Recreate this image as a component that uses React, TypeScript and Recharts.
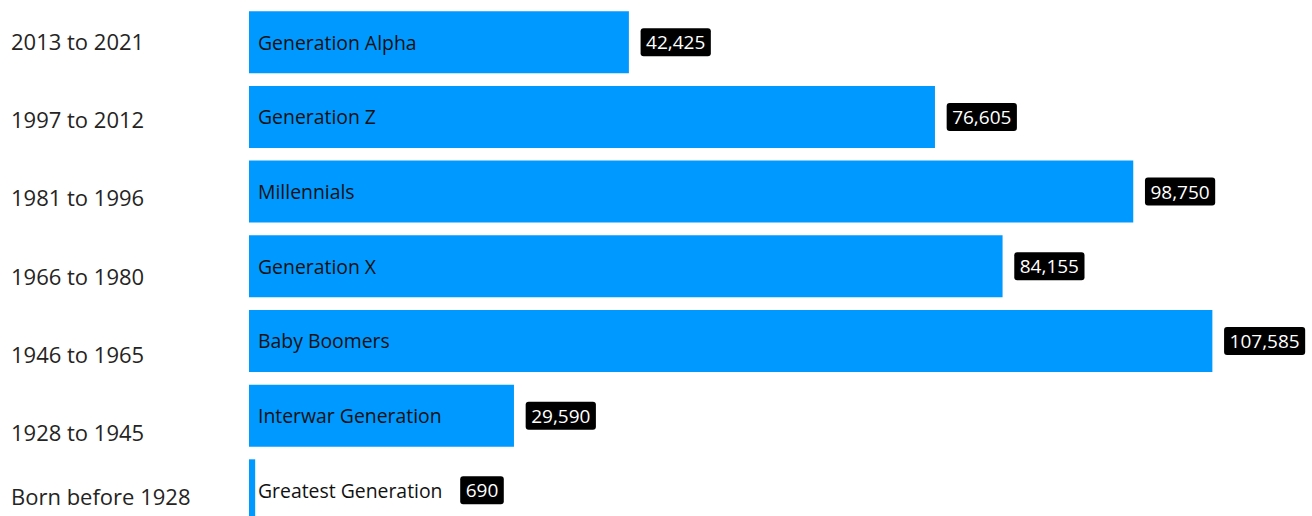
import React from 'react';
import { BarChart, Bar, XAxis, YAxis, LabelList } from 'recharts';

const years = ['2013 to 2021', '1997 to 2012', '1981 to 1996', '1966 to 1980', '1946 to 1965', '1928 to 1945', 'Born before 1928'];
const generations = ['Generation Alpha', 'Generation Z', 'Millennials', 'Generation X', 'Baby Boomers', 'Interwar Generation', 'Greatest Generation'];
const population = [42425, 76605, 98750, 84155, 107585, 29590, 690];

const data = years.map((y, i) => ({ years: y, generation: generations[i], population: population[i] }));

const FONT = '"Open Sans", "Noto Sans", sans-serif';
const BAR_FONT_SIZE = 19.4;
const VALUE_FONT_SIZE = 19;
const VIEW_H = 516;

let ctx: CanvasRenderingContext2D | null = null;
const measure = (t: string, size: number) => {
  if (!ctx) ctx = document.createElement('canvas').getContext('2d');
  if (!ctx) return t.length * size * 0.55;
  ctx.font = `${size}px "Open Sans"`;
  return ctx.measureText(t).width;
};

const YearTick = (props: any) => {
  const { y, payload } = props;
  const yy = Math.min(y, VIEW_H - 20);
  return (
    <text x={11} y={yy} textAnchor="start" dominantBaseline="central" fontFamily={FONT} fontSize={22} fill="#252423">
      {payload.value}
    </text>
  );
};

const NameLabel = (props: any) => {
  const { x, y, height, value } = props;
  return (
    <text x={x + 9} y={y + height / 2} dominantBaseline="central" fontFamily={FONT} fontSize={BAR_FONT_SIZE} fill="#111">
      {value}
    </text>
  );
};

const ValueLabel = (props: any) => {
  const { x, y, width, height, value, index } = props;
  const name = generations[index];
  const nameEnd = x + 9 + measure(name, BAR_FONT_SIZE);
  const start = Math.max(x + width, nameEnd + 6) + 11.7;
  const txt = Number(value).toLocaleString('en-US');
  const tw = measure(txt, VALUE_FONT_SIZE);
  const bw = tw + 11;
  const cy = y + height / 2;
  return (
    <g>
      <rect x={start} y={cy - 14} width={bw} height={28} rx={3} ry={3} fill="#000" />
      <text x={start + bw / 2} y={cy} textAnchor="middle" dominantBaseline="central" fontFamily={FONT} fontSize={VALUE_FONT_SIZE} fill="#fff">
        {txt}
      </text>
    </g>
  );
};

export default function App() {
  return (
    <div style={{ position: 'absolute', left: 0, top: 0, width: 1312, height: VIEW_H, overflow: 'hidden', background: '#fff' }}>
      <BarChart width={1312} height={530} data={data} layout="vertical" margin={{ top: 5.2, right: 78, bottom: 2.0, left: 0 }}>
        <XAxis type="number" domain={[0, 110000]} hide />
        <YAxis yAxisId="bars" type="category" dataKey="years" hide />
        <YAxis
          yAxisId="labels"
          type="category"
          dataKey="years"
          width={249}
          axisLine={false}
          tickLine={false}
          tick={<YearTick />}
          interval={0}
          padding={{ top: -3.25, bottom: -21.4 }}
        />
        <Bar yAxisId="bars" dataKey="population" fill="#0099FF" barSize={62} isAnimationActive={false}>
          <LabelList dataKey="generation" content={<NameLabel />} />
          <LabelList dataKey="population" content={<ValueLabel />} />
        </Bar>
      </BarChart>
    </div>
  );
}
